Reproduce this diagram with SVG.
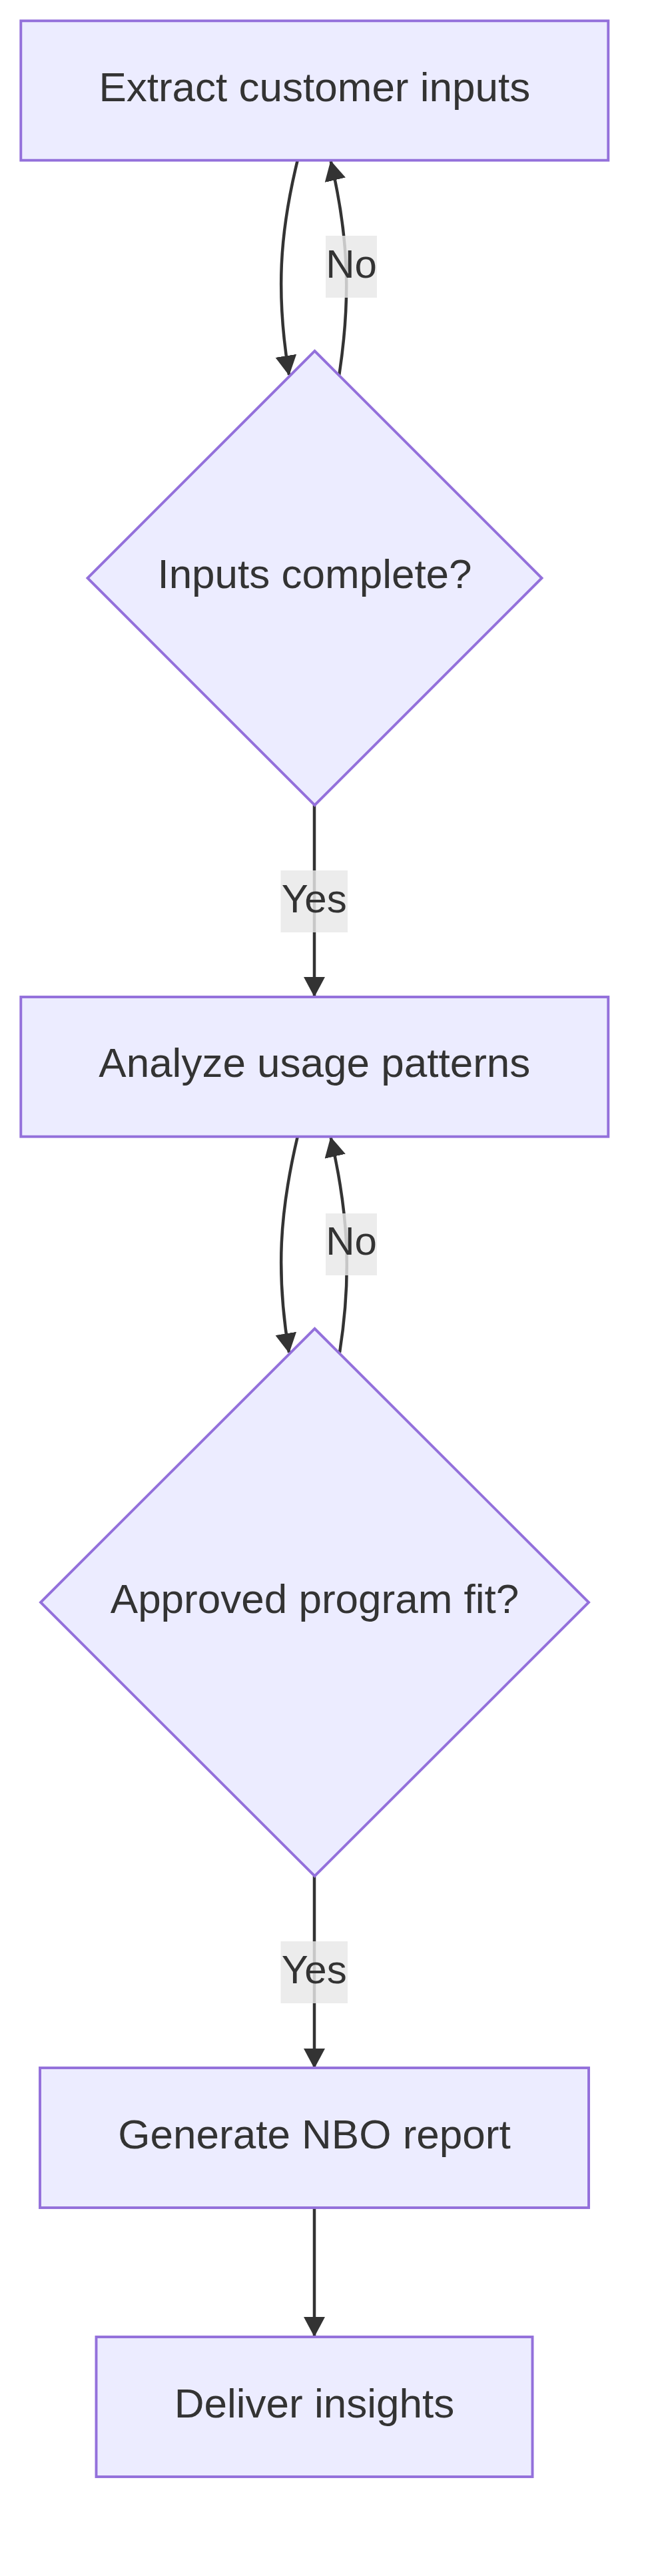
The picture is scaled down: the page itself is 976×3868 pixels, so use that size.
<svg xmlns="http://www.w3.org/2000/svg" width="976" height="3868" viewBox="0 0 976 3868">
<style>
.node rect, .node polygon { fill: #ECECFF; stroke: #9370DB; stroke-width: 3.9; }
.node text { font-family: "Liberation Sans", Arial, sans-serif; font-size: 62px; fill: #333333; text-anchor: middle; }
.edge { fill: none; stroke: #333333; stroke-width: 4.5; }
.lbl rect { fill: #e8e8e8; opacity: 0.82; }
.lbl text { font-family: "Liberation Sans", Arial, sans-serif; font-size: 60px; fill: #333333; text-anchor: middle; }
</style>
<defs>
<marker id="arrow" markerUnits="userSpaceOnUse" markerWidth="30" markerHeight="32" viewBox="0 0 30 32" refX="29" refY="16" orient="auto">
<path d="M0,0 L30,16 L0,32 z" fill="#333333"/>
</marker>
</defs>
<rect width="976" height="3868" fill="#ffffff"/>
<g id="connectors">
<path class="edge" d="M446.7,241 C420,350 414,440 434,563" marker-end="url(#arrow)"/>
<path class="edge" d="M509.3,563 C528,440 522,350 496.7,242" marker-end="url(#arrow)"/>
<path class="edge" d="M472,1209 L472,1496" marker-end="url(#arrow)"/>
<path class="edge" d="M446.7,1707 C420,1820 414,1910 434,2031" marker-end="url(#arrow)"/>
<path class="edge" d="M510,2031 C529,1910 522,1818 496.7,1708" marker-end="url(#arrow)"/>
<path class="edge" d="M472,2817 L472,3105" marker-end="url(#arrow)"/>
<path class="edge" d="M472,3315 L472,3508" marker-end="url(#arrow)"/>
<g class="lbl" id="label-no-1"><rect x="489" y="354" width="77" height="93"/><text x="527.5" y="417">No</text></g>
<g class="lbl" id="label-yes-1"><rect x="421.5" y="1307" width="100.5" height="93"/><text x="471.7" y="1370">Yes</text></g>
<g class="lbl" id="label-no-2"><rect x="489" y="1822" width="77" height="93"/><text x="527.5" y="1884">No</text></g>
<g class="lbl" id="label-yes-2"><rect x="421.5" y="2915" width="100.5" height="93"/><text x="471.7" y="2978">Yes</text></g>
</g>
<g id="node-extract" class="node"><rect x="31.3" y="31.3" width="882" height="209.4"/><text x="472.3" y="151.5">Extract customer inputs</text></g>
<g id="node-inputs-complete" class="node"><polygon points="472.5,527 813.5,868 472.5,1209 131.5,868"/><text x="472.5" y="883">Inputs complete?</text></g>
<g id="node-analyze" class="node"><rect x="31.3" y="1497" width="882" height="209.7"/><text x="472.3" y="1617">Analyze usage patterns</text></g>
<g id="node-program-fit" class="node"><polygon points="472.5,1995 884,2406 472.5,2817 61,2406"/><text x="472.5" y="2421.5">Approved program fit?</text></g>
<g id="node-generate" class="node"><rect x="60" y="3105" width="824" height="210"/><text x="472" y="3226">Generate NBO report</text></g>
<g id="node-deliver" class="node"><rect x="144.5" y="3509" width="655" height="210"/><text x="472" y="3630">Deliver insights</text></g>
</svg>
